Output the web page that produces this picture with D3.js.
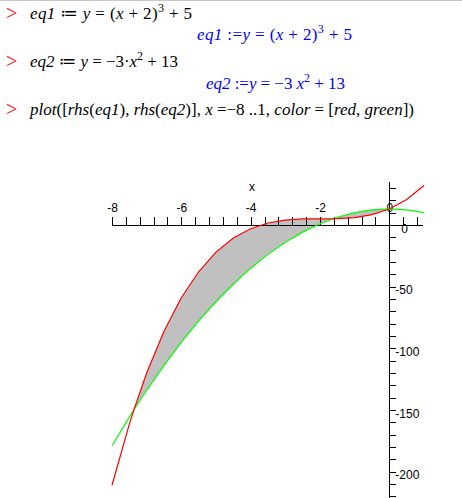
<!DOCTYPE html>
<html>
<head>
<meta charset="utf-8">
<script src="https://cdn.jsdelivr.net/npm/d3@7"></script>
<style>
  body { margin: 0; background: #fff; }
  svg { display: block; }
  .math { font-family: "Liberation Serif", "DejaVu Serif", serif; font-size: 17px; }
  .tick text, .lbl { font-family: "Liberation Sans", Arial, sans-serif; font-size: 12px; }
</style>
</head>
<body>
<div id="container"></div>
<script>
// values
var xs     = [-8, -7.5, -7.37, -7, -6.5, -6, -5.5, -5, -4.5, -4, -3.5, -3, -2.5, -2, -1.5, -1, -0.5, 0, 0.5, 1];
var redY   = [-211, -161.4, -150, -120, -86.1, -59, -37.9, -22, -10.6, -3, 1.6, 4, 4.9, 5, 5.1, 6, 8.4, 13, 20.6, 32];
var greenY = [-179, -155.8, -150, -134, -113.8, -95, -77.8, -62, -47.8, -35, -23.8, -14, -5.8, 1, 6.3, 10, 12.3, 13, 12.3, 10];
var fillFrom = -7.37, fillTo = 0;
var xLabels = [-8, -6, -4, -2, 0];
var yLabels = [-200, -150, -100, -50, 0];

var width = 462, height = 498;

var svg = d3.select("#container").append("svg")
    .attr("width", width)
    .attr("height", height);

// worksheet top border
svg.append("line")
    .attr("x1", 0).attr("x2", width).attr("y1", 0.5).attr("y2", 0.5)
    .attr("stroke", "#c8c8c8");

// the maple input / output lines
function mathLine(x, y, len, color, parts) {
  var t = svg.append("text").attr("class", "math")
      .attr("x", x).attr("y", y).attr("fill", color)
      .attr("textLength", len).attr("lengthAdjust", "spacing");
  parts.forEach(function(p) {
    var s = t.append("tspan").text(p[0]).attr("xml:space", "preserve");
    if (p[1] == "i") s.attr("font-style", "italic");
    if (p[1] == "sup") s.attr("font-size", "12px").attr("dy", -7);
    if (p[1] == "down") s.attr("dy", 7);
  });
}
function prompt(y) {
  svg.append("text").attr("class", "math")
      .attr("x", 6).attr("y", y).attr("fill", "#ff0000")
      .style("font-size", "20px").text(">");
}

prompt(20);
mathLine(30, 19, 162, "#000", [["eq1", "i"], [" \u2254 "], ["y", "i"], [" = ("], ["x", "i"], [" + 2)"], ["3", "sup"], [" + 5", "down"]]);
mathLine(197, 40, 155, "#0000ff", [["eq1", "i"], [" :="], ["y", "i"], [" = ("], ["x", "i"], [" + 2)"], ["3", "sup"], [" + 5", "down"]]);
prompt(68);
mathLine(30, 67, 148, "#000", [["eq2", "i"], [" \u2254 "], ["y", "i"], [" = \u22123\u00b7"], ["x", "i"], ["2", "sup"], [" + 13", "down"]]);
mathLine(206, 89, 139, "#0000ff", [["eq2", "i"], [" :="], ["y", "i"], [" = \u22123 "], ["x", "i"], ["2", "sup"], [" + 13", "down"]]);
prompt(116);
mathLine(30, 115, 384, "#000", [["plot", "i"], ["(["], ["rhs", "i"], ["("], ["eq1", "i"], ["), "], ["rhs", "i"], ["("], ["eq2", "i"], [")], "],
  ["x", "i"], [" =\u22128 ..1, "], ["color", "i"], [" = ["], ["red", "i"], [", "], ["green", "i"], ["])"]]);

// plot scales
var x = d3.scaleLinear().domain([-8, 0]).range([112, 389.3]);
var y = d3.scaleLinear().domain([0, -200]).range([225, 471.7]);

var pts = xs.map(function(d, i) { return {x: d, r: redY[i], g: greenY[i]}; });

// shaded region between the curves
var area = d3.area()
    .x(function(d) { return x(d.x); })
    .y0(function(d) { return y(d.r); })
    .y1(function(d) { return y(d.g); });
svg.append("path")
    .datum(pts.filter(function(d) { return d.x >= fillFrom && d.x <= fillTo; }))
    .attr("d", area)
    .attr("fill", "#c0c0c0");

// x axis
var xTicks = d3.range(0, 23).map(function(i) { return -8 + i * 0.4; });
var xAxis = svg.append("g")
    .attr("transform", "translate(0,225)")
    .call(d3.axisTop(x).tickValues(xTicks).tickSize(8).tickSizeOuter(0)
      .tickFormat(function(d) {
        var r = Math.round(d);
        return Math.abs(d - r) < 1e-6 && xLabels.indexOf(r) >= 0 ? String(r) : "";
      }));
xAxis.select(".domain").attr("d", "M" + x(-8) + ",0.5H" + 423).attr("shape-rendering", "crispEdges");
xAxis.selectAll(".tick line").attr("shape-rendering", "crispEdges");
xAxis.selectAll(".tick text").attr("fill", "#000").attr("y", -13);

svg.append("text").attr("class", "lbl")
    .attr("x", 252).attr("y", 191).attr("text-anchor", "middle").text("x");

// y axis
var yTicks = d3.range(30, -221, -10);
var yAxis = svg.append("g")
    .attr("transform", "translate(" + x(0) + ",0)")
    .call(d3.axisRight(y).tickValues(yTicks).tickSize(7).tickSizeOuter(0)
      .tickFormat(function(d) { return yLabels.indexOf(d) >= 0 ? String(d) : ""; }));
yAxis.select(".domain").attr("d", "M0.5,182V498").attr("shape-rendering", "crispEdges");
yAxis.selectAll(".tick line").attr("shape-rendering", "crispEdges");
yAxis.selectAll(".tick text").attr("fill", "#000")
    .attr("x", function(d) { return d == 0 ? 12 : 6; })
    .attr("dy", "0.6em");

// curves
var line = d3.line()
    .x(function(d) { return x(d.x); });
svg.append("path")
    .datum(pts)
    .attr("d", line.y(function(d) { return y(d.g); }))
    .attr("fill", "none").attr("stroke", "#00ff00").attr("stroke-width", 1.2);
svg.append("path")
    .datum(pts)
    .attr("d", line.y(function(d) { return y(d.r); }))
    .attr("fill", "none").attr("stroke", "#ff0000").attr("stroke-width", 1.2);
</script>
</body>
</html>
